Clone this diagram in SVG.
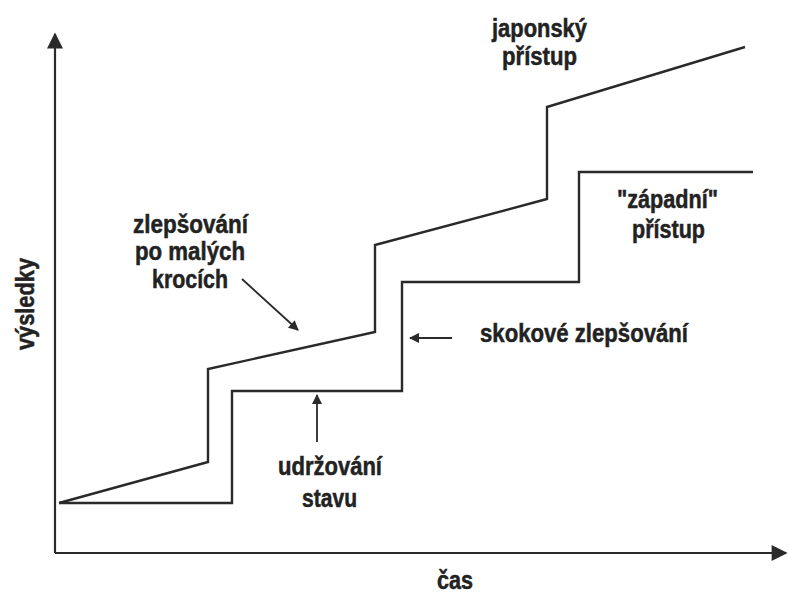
<svg xmlns="http://www.w3.org/2000/svg" width="788" height="597" viewBox="0 0 788 597">
  <style>
    .axis { stroke: #2a2a2a; stroke-width: 2.2; fill: none; }
    .curve { stroke: #2a2a2a; stroke-width: 2.4; fill: none; stroke-linejoin: miter; }
    .pointer { stroke: #2a2a2a; stroke-width: 1.8; fill: none; }
    .lbl { font-family: "Liberation Sans", Arial, sans-serif; font-weight: bold; font-size: 25px; fill: #222; stroke: #222; stroke-width: 0.5; }
  </style>
  <defs>
    <marker id="bigHead" viewBox="0 0 10 10" refX="9" refY="5" markerWidth="19" markerHeight="16" markerUnits="userSpaceOnUse" orient="auto">
      <path d="M0,0 L10,5 L0,10 z" fill="#2a2a2a"/>
    </marker>
    <marker id="smallHead" viewBox="0 0 10 10" refX="9" refY="5" markerWidth="13" markerHeight="10" markerUnits="userSpaceOnUse" orient="auto">
      <path d="M0,0 L10,5 L0,10 z" fill="#2a2a2a"/>
    </marker>
  </defs>
  <rect width="788" height="597" fill="#ffffff"/>

  <!-- axes -->
  <g id="axes">
    <line class="axis" x1="55" y1="553" x2="55" y2="34" marker-end="url(#bigHead)"/>
    <line class="axis" x1="55" y1="553" x2="786" y2="553" marker-end="url(#bigHead)"/>
  </g>

  <!-- improvement curves -->
  <g id="curves">
    <polyline id="japanese" class="curve" points="59,503 208,462 208,369 375,332 375,245 547,199 547,107 745,47"/>
    <polyline id="western" class="curve" points="59,503 232,503 232,391 402,391 402,282 579,282 579,172 753,172"/>
  </g>

  <!-- pointer arrows -->
  <g id="connectors">
    <line class="pointer" x1="242" y1="279" x2="298" y2="330" marker-end="url(#smallHead)"/>
    <line class="pointer" x1="317" y1="442" x2="317" y2="395" marker-end="url(#smallHead)"/>
    <line class="pointer" x1="452" y1="338" x2="410" y2="338" marker-end="url(#smallHead)"/>
  </g>

  <!-- labels -->
  <g id="label-small-steps">
    <text class="lbl" x="133" y="233" textLength="115" lengthAdjust="spacingAndGlyphs">zlepšování</text>
    <text class="lbl" x="135" y="260" textLength="110" lengthAdjust="spacingAndGlyphs">po malých</text>
    <text class="lbl" x="152" y="288" textLength="76" lengthAdjust="spacingAndGlyphs">krocích</text>
  </g>
  <g id="label-japanese">
    <text class="lbl" x="492" y="37" textLength="95" lengthAdjust="spacingAndGlyphs">japonský</text>
    <text class="lbl" x="502" y="65" textLength="75" lengthAdjust="spacingAndGlyphs">přístup</text>
  </g>
  <g id="label-western">
    <text class="lbl" x="617" y="208" textLength="101" lengthAdjust="spacingAndGlyphs">"západní"</text>
    <text class="lbl" x="632" y="238" textLength="73" lengthAdjust="spacingAndGlyphs">přístup</text>
  </g>
  <g id="label-jump">
    <text class="lbl" x="480" y="342" textLength="208" lengthAdjust="spacingAndGlyphs">skokové zlepšování</text>
  </g>
  <g id="label-maintain">
    <text class="lbl" x="278" y="475" textLength="104" lengthAdjust="spacingAndGlyphs">udržování</text>
    <text class="lbl" x="302" y="507" textLength="55" lengthAdjust="spacingAndGlyphs">stavu</text>
  </g>
  <g id="label-time">
    <text class="lbl" x="437" y="589" textLength="36" lengthAdjust="spacingAndGlyphs">čas</text>
  </g>
  <g id="label-results">
    <text class="lbl" transform="translate(34,350) rotate(-90)" x="0" y="0" textLength="92" lengthAdjust="spacingAndGlyphs">výsledky</text>
  </g>
</svg>
